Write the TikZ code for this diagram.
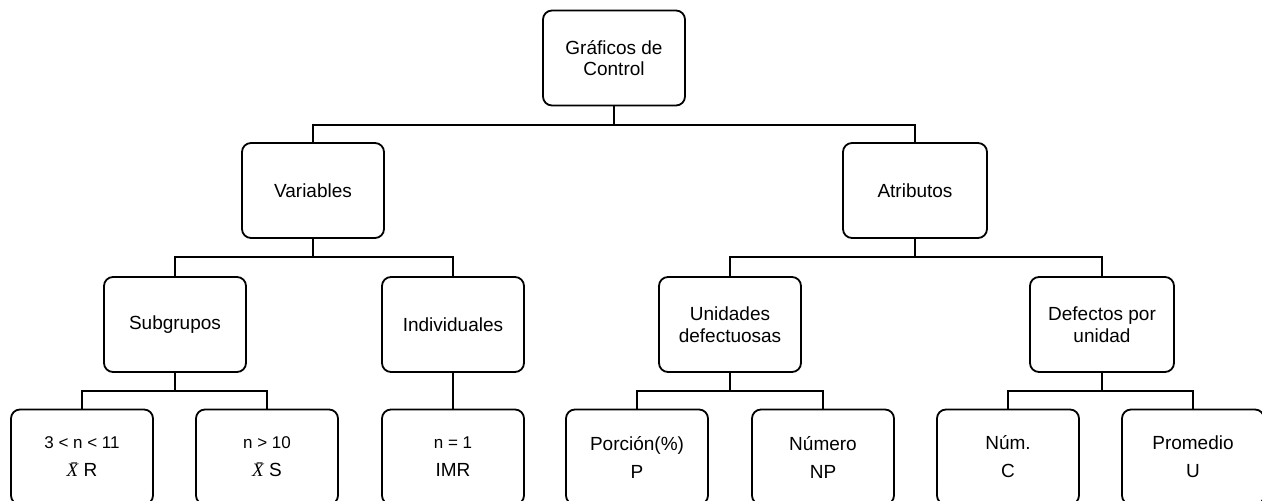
\documentclass[tikz,border=0pt]{standalone}
\usepackage{fontspec}
\setmainfont{Liberation Sans}
\newfontfamily\xbarfont{Liberation Serif}
% italic X with a bar over it, set in the text font
\newcommand{\xbarsym}{{\xbarfont\itshape X\char"0304}}
\begin{document}
\begin{tikzpicture}[x=1pt,y=-1pt,
  box/.style={draw=black, line width=1.8pt, rounded corners=9pt, fill=white,
    minimum width=142pt, minimum height=95pt, inner sep=0pt, align=center,
    font=\fontsize{19}{21.5}\selectfont},
  leaf/.style={box, font=\fontsize{19}{28}\selectfont},
  conn/.style={line width=2pt, line cap=rect}]
\useasboundingbox (0,0) rectangle (1262,501);
\clip (0,0) rectangle (1262,501);

% level 0
\node[box] (root) at (614,58) {Gráficos de\\Control};
% level 1
\node[box] (var) at (313,190.5) {Variables};
\node[box, minimum width=144pt] (atr) at (915,190.5) {Atributos};
% level 2
\node[box] (sub) at (175,324.5) {Subgrupos};
\node[box] (ind) at (453,324.5) {Individuales};
\node[box] (uni) at (730,324.5) {Unidades\\defectuosas};
\node[box, minimum width=144pt] (def) at (1102,324.5) {Defectos por\\unidad};
% level 3
\node[leaf] (r1) at (82,457) {{\fontsize{17}{28}\selectfont 3 < n < 11}\\\xbarsym\ R};
\node[leaf] (r2) at (267,457) {{\fontsize{17}{28}\selectfont n > 10}\\\xbarsym\ S};
\node[leaf] (r3) at (453,457) {{\fontsize{17}{28}\selectfont n = 1}\\IMR};
\node[leaf] (r4) at (637,457) {Porción(\%)\\P};
\node[leaf] (r5) at (823,457) {Número\\NP};
\node[leaf] (r6) at (1008,457) {Núm.\\C};
\node[leaf] (r7) at (1193,457) {Promedio\\U};

% junction heights of the tree
\coordinate (j1) at (0,125);
\coordinate (j2) at (0,257);
\coordinate (j3) at (0,391);

\draw[conn] (root.south) -- (root.south |- j1);
\draw[conn] (var.north) |- (atr.north |- j1) -- (atr.north);

\draw[conn] (var.south) -- (var.south |- j2);
\draw[conn] (sub.north) |- (ind.north |- j2) -- (ind.north);
\draw[conn] (atr.south) -- (atr.south |- j2);
\draw[conn] (uni.north) |- (def.north |- j2) -- (def.north);

\draw[conn] (sub.south) -- (sub.south |- j3);
\draw[conn] (r1.north) |- (r2.north |- j3) -- (r2.north);
\draw[conn] (ind.south) -- (r3.north);
\draw[conn] (uni.south) -- (uni.south |- j3);
\draw[conn] (r4.north) |- (r5.north |- j3) -- (r5.north);
\draw[conn] (def.south) -- (def.south |- j3);
\draw[conn] (r6.north) |- (r7.north |- j3) -- (r7.north);
\end{tikzpicture}
\end{document}
